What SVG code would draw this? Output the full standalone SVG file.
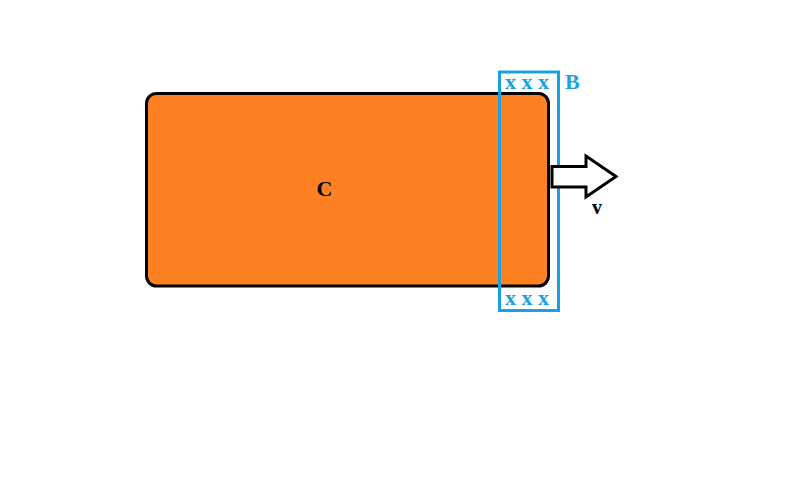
<svg xmlns="http://www.w3.org/2000/svg" width="800" height="497" viewBox="0 0 800 497">
<style>
.lbl{font-family:"Liberation Serif",serif;font-weight:bold;}
.blue{fill:#1ba1e2;}
</style>
<rect width="800" height="497" fill="#ffffff"/>
<g id="C">
<rect x="146.5" y="93.5" width="402" height="192.5" rx="10" ry="10" fill="#fd8023" stroke="#000" stroke-width="3"/>
<text class="lbl" x="324.5" y="196" font-size="22" text-anchor="middle">C</text>
</g>
<g id="B">
<rect x="499.5" y="72" width="59" height="238.5" fill="none" stroke="#1ba1e2" stroke-width="3"/>
<text class="lbl blue" x="527" y="88.5" font-size="22" text-anchor="middle">x x x</text>
<text class="lbl blue" x="527" y="305" font-size="22" text-anchor="middle">x x x</text>
<text class="lbl blue" x="565" y="88.5" font-size="22">B</text>
</g>
<g id="connectors">
<polygon points="552,166.5 586,166.5 586,156 616,176.5 586,197 586,187 552,187" fill="#fff" stroke="#000" stroke-width="3"/>
<text class="lbl" x="597" y="214" font-size="20" text-anchor="middle">v</text>
</g>
</svg>
